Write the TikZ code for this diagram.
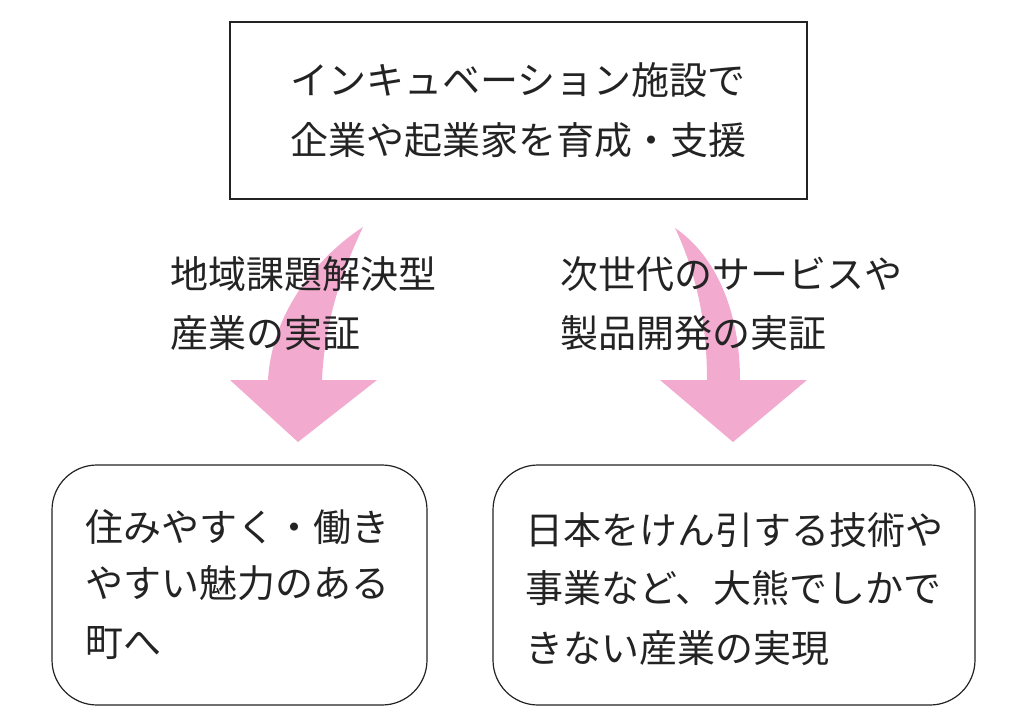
\documentclass[tikz,border=0pt]{standalone}
\usepackage{fontspec}
\newfontfamily\jp{Noto Sans CJK JP}
\definecolor{arrowpink}{RGB}{242,170,206}
\definecolor{inkgray}{RGB}{35,35,35}
\begin{document}
\begin{tikzpicture}[x=1pt,y=-1pt,
  boxline/.style={draw=inkgray, line width=1.2pt, inner sep=0pt},
  toptext/.style={anchor=base, inner sep=0pt, text=inkgray, font=\jp\fontsize{38}{44}\selectfont},
  bodytext/.style={anchor=base west, inner sep=0pt, text=inkgray, font=\jp\fontsize{38}{44}\selectfont},
  bigarrow/.style={fill=arrowpink, draw=none}]
\useasboundingbox (0,0) rectangle (1025,725);
% boxes
\node[boxline, minimum width=577pt, minimum height=177pt] (top) at (518.5,110.5) {};
\node[boxline, rounded corners=45pt, minimum width=375pt, minimum height=240pt] (left) at (239.5,585) {};
\node[boxline, rounded corners=45pt, minimum width=482pt, minimum height=240pt] (right) at (734,585) {};
% curved arrows
\path[bigarrow] (363,227) .. controls (350,255) and (325,310) .. (322,380) -- (377,380) -- (298,442) -- (230,380) -- (268,380) .. controls (272,310) and (320,255) .. (363,227) -- cycle;
\path[bigarrow] (675,228) .. controls (715,255) and (740,310) .. (740,380) -- (807,380) -- (733,442) -- (660,380) -- (707,380) .. controls (707,320) and (695,270) .. (675,228) -- cycle;
% top box text
\node[toptext] (t1) at (518,94) {インキュベーション施設で};
\node[toptext] (t2) at (518,154) {企業や起業家を育成・支援};
% arrow labels
\node[bodytext] (l1) at (170,288) {地域課題解決型};
\node[bodytext] (l2) at (170,347) {産業の実証};
\node[bodytext] (r1) at (560,288) {次世代のサービスや};
\node[bodytext] (r2) at (560,347) {製品開発の実証};
% bottom-left text
\node[bodytext] (a1) at (85,541) {住みやすく・働き};
\node[bodytext] (a2) at (85,597) {やすい魅力のある};
\node[bodytext] (a3) at (85,656) {町へ};
% bottom-right text
\node[bodytext] (b1) at (525,544) {日本をけん引する技術や};
\node[bodytext] (b2) at (525,602) {事業など、大熊でしかで};
\node[bodytext] (b3) at (525,662) {きない産業の実現};
\end{tikzpicture}
\end{document}
